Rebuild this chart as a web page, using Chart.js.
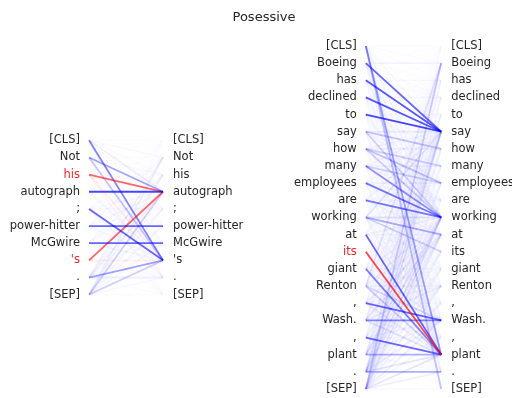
<!DOCTYPE html>
<html>
<head>
<meta charset="utf-8">
<script src="https://cdn.jsdelivr.net/npm/chart.js@4/dist/chart.umd.min.js"></script>
<style>
  html, body { margin: 0; padding: 0; background: #fff; }
  #wrap { width: 512px; height: 398px; position: relative; }
</style>
</head>
<body>
<div id="wrap"><canvas id="c" width="512" height="398"></canvas></div>
<script>
// Attention from each token (row) to each token (column) for one BERT head.
const chartTitle = "Posessive";

const leftTokens = ["[CLS]", "Not", "his", "autograph", ";", "power-hitter", "McGwire", "'s", ".", "[SEP]"];
const leftHighlight = [2, 7];
const leftAttention = [
  [0.05, 0.08, 0.06, 0.15, 0.05, 0.05, 0.06, 0.60, 0.08, 0.06],
  [0.04, 0.06, 0.08, 0.50, 0.06, 0.05, 0.05, 0.35, 0.05, 0.04],
  [0.03, 0.05, 0.06, 0.70, 0.06, 0.06, 0.08, 0.15, 0.10, 0.04],
  [0.03, 0.05, 0.05, 0.80, 0.04, 0.05, 0.06, 0.10, 0.04, 0.04],
  [0.05, 0.06, 0.05, 0.08, 0.08, 0.06, 0.06, 0.70, 0.10, 0.05],
  [0.04, 0.08, 0.05, 0.10, 0.06, 0.70, 0.06, 0.10, 0.05, 0.05],
  [0.04, 0.06, 0.08, 0.08, 0.05, 0.06, 0.70, 0.10, 0.06, 0.05],
  [0.04, 0.06, 0.06, 0.70, 0.06, 0.05, 0.06, 0.15, 0.08, 0.04],
  [0.05, 0.12, 0.10, 0.15, 0.08, 0.08, 0.08, 0.50, 0.15, 0.06],
  [0.05, 0.15, 0.12, 0.30, 0.10, 0.10, 0.10, 0.30, 0.08, 0.05]
];

const rightTokens = ["[CLS]", "Boeing", "has", "declined", "to", "say", "how", "many", "employees", "are",
  "working", "at", "its", "giant", "Renton", ",", "Wash.", ",", "plant", ".", "[SEP]"];
const rightHighlight = [12];
const rightAttention = [
  [0.03, 0.06, 0.05, 0.04, 0.05, 0.08, 0.04, 0.05, 0.04, 0.05, 0.10, 0.06, 0.04, 0.05, 0.04, 0.05, 0.08, 0.04, 0.50, 0.10, 0.35],
  [0.03, 0.12, 0.05, 0.06, 0.04, 0.70, 0.05, 0.04, 0.06, 0.04, 0.08, 0.05, 0.04, 0.05, 0.06, 0.04, 0.05, 0.04, 0.08, 0.04, 0.03],
  [0.03, 0.05, 0.08, 0.06, 0.05, 0.75, 0.05, 0.06, 0.04, 0.05, 0.10, 0.04, 0.05, 0.04, 0.04, 0.05, 0.04, 0.04, 0.06, 0.05, 0.03],
  [0.03, 0.04, 0.06, 0.10, 0.06, 0.75, 0.06, 0.05, 0.05, 0.04, 0.08, 0.05, 0.04, 0.04, 0.05, 0.04, 0.05, 0.04, 0.06, 0.05, 0.03],
  [0.03, 0.04, 0.05, 0.06, 0.08, 0.80, 0.08, 0.05, 0.04, 0.05, 0.10, 0.04, 0.04, 0.05, 0.04, 0.04, 0.05, 0.04, 0.06, 0.04, 0.03],
  [0.03, 0.05, 0.04, 0.06, 0.05, 0.15, 0.35, 0.08, 0.10, 0.06, 0.30, 0.06, 0.05, 0.04, 0.05, 0.04, 0.06, 0.04, 0.08, 0.05, 0.03],
  [0.03, 0.04, 0.05, 0.04, 0.05, 0.10, 0.12, 0.30, 0.35, 0.08, 0.30, 0.05, 0.04, 0.05, 0.04, 0.05, 0.04, 0.04, 0.06, 0.05, 0.03],
  [0.03, 0.05, 0.04, 0.05, 0.04, 0.12, 0.06, 0.12, 0.30, 0.10, 0.55, 0.06, 0.05, 0.04, 0.05, 0.04, 0.05, 0.04, 0.08, 0.04, 0.03],
  [0.03, 0.04, 0.05, 0.04, 0.05, 0.10, 0.05, 0.06, 0.12, 0.10, 0.65, 0.08, 0.04, 0.05, 0.04, 0.05, 0.04, 0.04, 0.08, 0.05, 0.03],
  [0.03, 0.05, 0.04, 0.05, 0.04, 0.12, 0.05, 0.05, 0.08, 0.10, 0.65, 0.10, 0.05, 0.04, 0.05, 0.04, 0.05, 0.04, 0.06, 0.04, 0.03],
  [0.03, 0.06, 0.04, 0.05, 0.05, 0.20, 0.06, 0.05, 0.06, 0.08, 0.20, 0.45, 0.30, 0.08, 0.06, 0.05, 0.08, 0.04, 0.10, 0.05, 0.03],
  [0.03, 0.04, 0.05, 0.04, 0.05, 0.08, 0.04, 0.05, 0.04, 0.05, 0.12, 0.10, 0.08, 0.06, 0.08, 0.05, 0.10, 0.05, 0.70, 0.06, 0.03],
  [0.02, 0.05, 0.04, 0.04, 0.03, 0.06, 0.04, 0.03, 0.04, 0.03, 0.08, 0.06, 0.06, 0.05, 0.06, 0.04, 0.08, 0.05, 0.80, 0.05, 0.02],
  [0.03, 0.06, 0.04, 0.05, 0.04, 0.08, 0.05, 0.04, 0.05, 0.04, 0.10, 0.08, 0.06, 0.08, 0.10, 0.06, 0.12, 0.06, 0.60, 0.05, 0.03],
  [0.03, 0.20, 0.05, 0.04, 0.05, 0.10, 0.04, 0.05, 0.06, 0.04, 0.12, 0.10, 0.06, 0.08, 0.12, 0.06, 0.25, 0.05, 0.30, 0.06, 0.03],
  [0.03, 0.06, 0.04, 0.05, 0.04, 0.08, 0.05, 0.04, 0.05, 0.04, 0.10, 0.12, 0.05, 0.06, 0.10, 0.08, 0.70, 0.06, 0.15, 0.06, 0.03],
  [0.03, 0.10, 0.05, 0.04, 0.05, 0.12, 0.04, 0.05, 0.04, 0.05, 0.15, 0.15, 0.05, 0.06, 0.15, 0.06, 0.60, 0.08, 0.20, 0.05, 0.03],
  [0.03, 0.05, 0.04, 0.05, 0.04, 0.10, 0.05, 0.04, 0.05, 0.04, 0.10, 0.10, 0.06, 0.05, 0.08, 0.06, 0.12, 0.08, 0.70, 0.06, 0.03],
  [0.03, 0.08, 0.05, 0.04, 0.05, 0.15, 0.05, 0.06, 0.05, 0.05, 0.20, 0.12, 0.08, 0.08, 0.10, 0.06, 0.12, 0.06, 0.45, 0.08, 0.03],
  [0.04, 0.10, 0.06, 0.06, 0.08, 0.20, 0.08, 0.06, 0.08, 0.06, 0.20, 0.15, 0.08, 0.08, 0.10, 0.08, 0.15, 0.08, 0.20, 0.45, 0.05],
  [0.05, 0.30, 0.08, 0.08, 0.08, 0.20, 0.10, 0.08, 0.10, 0.08, 0.20, 0.15, 0.10, 0.10, 0.12, 0.10, 0.15, 0.10, 0.20, 0.15, 0.06]
];

// Layout of the two panels in axis units: source column, target column, row offset.
const panels = [
  { tokens: leftTokens, att: leftAttention, hi: leftHighlight, x0: 0, x1: 1, yOff: (rightTokens.length - leftTokens.length) / 2 },
  { tokens: rightTokens, att: rightAttention, hi: rightHighlight, x0: 3.74, x1: 4.76, yOff: 0 }
];

// Line opacity grows faster than linearly with the attention weight,
// so weak links stay a pale haze and strong links stand out.
const opacity = w => Math.pow(w, 1.45).toFixed(3);

const datasets = [];
panels.forEach(p => {
  p.att.forEach((row, i) => {
    const red = p.hi.includes(i);
    row.forEach((w, j) => {
      datasets.push({
        data: [{ x: p.x0, y: i + p.yOff }, { x: p.x1, y: j + p.yOff }],
        showLine: true,
        borderColor: red ? `rgba(255,0,0,${opacity(w)})` : `rgba(0,0,255,${opacity(w)})`,
        borderWidth: 1.8,
        pointRadius: 0,
        pointHoverRadius: 0,
        order: -w
      });
    });
  });
});

// Token labels on both sides of each panel, placed through the scales.
const tokenLabels = {
  id: 'tokenLabels',
  afterDatasetsDraw(chart) {
    const { ctx, scales: { x, y } } = chart;
    ctx.save();
    ctx.font = '11.5px "DejaVu Sans"';
    ctx.textBaseline = 'middle';
    panels.forEach(p => {
      const xl = x.getPixelForValue(p.x0);
      const xr = x.getPixelForValue(p.x1);
      p.tokens.forEach((t, i) => {
        const py = y.getPixelForValue(i + p.yOff);
        ctx.textAlign = 'right';
        ctx.fillStyle = p.hi.includes(i) ? '#e8262a' : '#262626';
        ctx.fillText(t, xl - 9, py);
        ctx.textAlign = 'left';
        ctx.fillStyle = '#262626';
        ctx.fillText(t, xr + 10, py);
      });
    });
    ctx.font = '13px "DejaVu Sans"';
    ctx.textAlign = 'center';
    ctx.fillStyle = '#262626';
    ctx.fillText(chartTitle, 264, 18);
    ctx.restore();
  }
};

new Chart(document.getElementById('c'), {
  type: 'scatter',
  data: { datasets },
  options: {
    responsive: false,
    animation: false,
    layout: { padding: 0 },
    plugins: { legend: { display: false }, tooltip: { enabled: false }, title: { display: false } },
    scales: {
      x: { type: 'linear', display: false, min: -1.203, max: 5.716 },
      y: { type: 'linear', display: false, reverse: true, min: -2.682, max: 20.526 }
    }
  },
  plugins: [tokenLabels]
});
</script>
</body>
</html>
